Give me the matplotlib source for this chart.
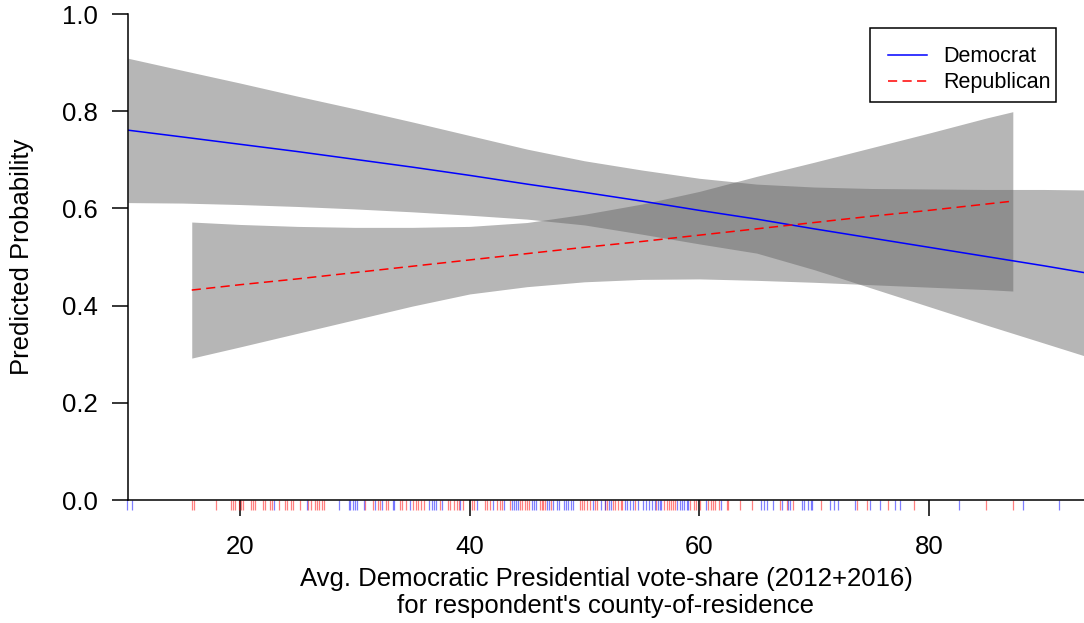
import matplotlib
matplotlib.use('Agg')
import matplotlib.pyplot as plt
import matplotlib.transforms as mtransforms
from matplotlib.patches import Rectangle
from matplotlib.ticker import FormatStrFormatter

plt.rcParams['font.family'] = ['Liberation Sans', 'DejaVu Sans']

# Democrat fit and 95% band
dem_x = [10.25, 15, 20, 25, 30, 35, 40, 45, 50, 55, 60, 65, 70, 75, 80, 85, 90, 93.5]
dem_fit = [0.761, 0.747, 0.732, 0.717, 0.701, 0.685, 0.668, 0.650, 0.633, 0.615,
           0.596, 0.578, 0.558, 0.539, 0.520, 0.501, 0.482, 0.468]
dem_hi = [0.909, 0.884, 0.858, 0.831, 0.805, 0.778, 0.750, 0.722, 0.698, 0.679,
          0.662, 0.650, 0.644, 0.641, 0.640, 0.639, 0.639, 0.638]
dem_lo = [0.612, 0.611, 0.608, 0.604, 0.599, 0.593, 0.586, 0.578, 0.566, 0.547,
          0.527, 0.508, 0.474, 0.436, 0.398, 0.360, 0.323, 0.297]

# Republican fit and band
rep_x = [15.8, 20, 25, 30, 35, 40, 45, 50, 55, 60, 65, 70, 75, 80, 85, 87.3]
rep_fit = [0.432, 0.443, 0.455, 0.468, 0.481, 0.494, 0.507, 0.520, 0.532, 0.545,
           0.558, 0.571, 0.584, 0.596, 0.609, 0.615]
rep_hi = [0.572, 0.567, 0.563, 0.561, 0.561, 0.563, 0.571, 0.588, 0.609, 0.635,
          0.666, 0.695, 0.725, 0.755, 0.786, 0.799]
rep_lo = [0.292, 0.315, 0.343, 0.371, 0.399, 0.424, 0.439, 0.449, 0.454, 0.455,
          0.452, 0.448, 0.443, 0.438, 0.433, 0.430]

# rug: county vote-share of respondents
dem_rug = [10.2, 10.6, 23.0, 25.8, 28.6, 29.5, 29.6, 29.8, 30.0, 30.2, 30.8,
           31.8, 32.4, 33.3, 33.4, 34.8, 36.5, 36.7, 36.9, 37.1, 37.6, 39.2, 40.6,
           42.0, 43.0, 43.7, 43.9, 44.0, 44.2, 45.4, 45.6, 45.8, 46.7, 46.9, 47.3,
           47.6, 47.8, 48.2, 48.4, 48.6, 48.8, 49.0, 50.7, 51.4, 51.8, 52.1, 52.3,
           53.5, 53.7, 54.0, 54.2, 54.7, 55.1, 55.4, 55.6, 55.9, 56.1, 56.4, 56.6,
           56.7, 58.1, 58.3, 58.5, 58.7, 58.9, 59.0, 60.6, 61.9, 65.4, 65.6, 65.9,
           66.4, 67.2, 67.7, 67.9, 68.9, 69.1, 69.5, 69.7, 69.8, 71.4, 71.7, 72.1,
           73.6, 74.9, 75.7, 77.0, 77.5, 82.6, 88.2, 91.3]
rep_rug = [15.8, 16.0, 17.9, 19.2, 19.4, 19.6, 19.9, 20.1, 20.3, 21.0, 21.1, 21.3,
           22.0, 22.2, 22.6, 22.8, 23.4, 23.9, 24.1, 24.4, 24.6, 25.2, 25.9, 26.2,
           26.5, 26.7, 26.9, 27.1, 27.3, 30.9, 31.6, 32.0, 32.2, 32.7, 32.9, 33.9,
           34.1, 34.5, 35.1, 35.3, 35.5, 35.8, 36.0, 37.4, 38.1, 38.3, 38.6, 38.9,
           39.1, 39.4, 40.2, 40.4, 41.3, 41.5, 41.8, 42.4, 42.6, 42.8, 43.5, 44.4,
           44.6, 44.8, 45.0, 45.2, 46.1, 46.3, 46.4, 46.6, 47.1, 49.6, 49.8, 50.0,
           50.2, 50.5, 50.9, 51.1, 51.8, 52.0, 52.5, 52.7, 52.9, 53.2, 53.3, 54.4,
           56.2, 56.9, 57.2, 57.4, 57.5, 57.7, 57.9, 59.2, 59.5, 59.7, 60.1, 60.8,
           61.0, 61.2, 61.4, 61.7, 62.4, 62.5, 63.5, 64.6, 67.0, 67.6, 68.2, 70.6,
           73.7, 74.6, 76.4, 78.7, 85.0, 87.3]

fig = plt.figure(figsize=(10.84, 6.23), dpi=100)
ax = fig.add_axes([0.1181, 0.1974, 0.8819, 0.7801])

band = '#646464'
ax.fill_between(dem_x, dem_lo, dem_hi, color=band, alpha=0.47, lw=0)
ax.fill_between(rep_x, rep_lo, rep_hi, color=band, alpha=0.47, lw=0)
ax.plot(dem_x, dem_fit, color='#0000ff', lw=1.1, label='Democrat')
ax.plot(rep_x, rep_fit, color='#ff0000', lw=1.1, ls=(0, (6, 3.5)), label='Republican')

trans = mtransforms.blended_transform_factory(ax.transData, ax.transAxes)
ax.vlines(rep_rug, 0, -0.021, colors='#ff0000', alpha=0.5, lw=0.9,
          transform=trans, clip_on=False)
ax.vlines(dem_rug, 0, -0.021, colors='#0000ff', alpha=0.5, lw=0.9,
          transform=trans, clip_on=False)

ax.set_xlim(10.25, 93.5)
ax.set_ylim(0, 1)
ax.set_xticks([20, 40, 60, 80])
ax.set_yticks([0, 0.2, 0.4, 0.6, 0.8, 1.0])
ax.yaxis.set_major_formatter(FormatStrFormatter('%.1f'))
for side in ['top', 'right']:
    ax.spines[side].set_visible(False)
for side in ['left', 'bottom']:
    ax.spines[side].set_linewidth(1.1)
ax.tick_params(length=11.5, width=1.1, labelsize=18.5)
ax.tick_params(axis='x', pad=14)
ax.tick_params(axis='y', pad=10)

fig.text(0.559, 0.049,
         "Avg. Democratic Presidential vote-share (2012+2016)\nfor respondent's county-of-residence",
         ha='center', va='center', fontsize=18.5, linespacing=1.2)
fig.text(0.0203, 0.587, 'Predicted Probability', rotation=90,
         ha='center', va='center', fontsize=18.5)

# legend box drawn separately (R-style, text not centred in box)
ax.add_patch(Rectangle((0.7762, 0.8189), 0.1945, 0.1523, transform=ax.transAxes,
                       facecolor='white', edgecolor='black', lw=1.1, zorder=4))
leg = ax.legend(loc='upper left', bbox_to_anchor=(0.795, 0.934), fontsize=15.5,
                frameon=False, borderaxespad=0, borderpad=0,
                labelspacing=0.24, handlelength=1.81, handletextpad=0.74)
leg.set_zorder(5)

fig.savefig('out.png', dpi=100)
